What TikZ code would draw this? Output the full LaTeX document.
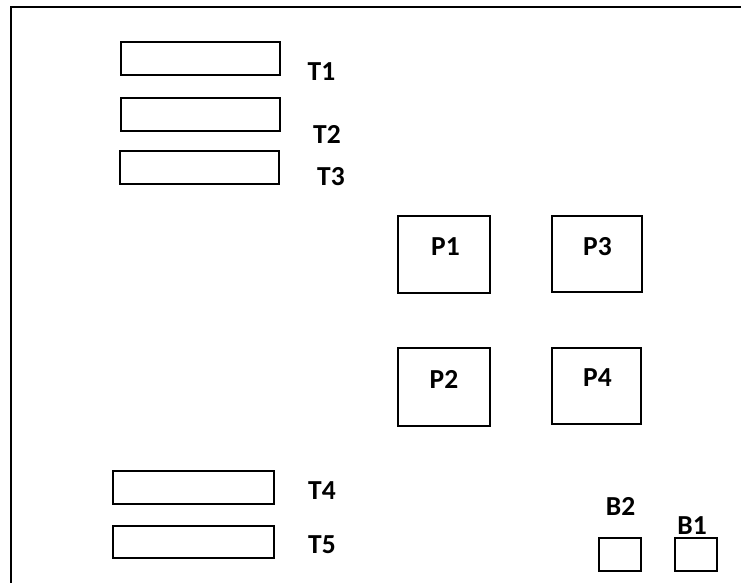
\documentclass[tikz,border=0pt]{standalone}
\usepackage{fontspec}
\setmainfont{Carlito}
\begin{document}
\begin{tikzpicture}[x=1pt,y=-1pt,
  box/.style={draw=black,line width=1.8pt,inner sep=0pt,rectangle},
  lbl/.style={inner sep=0pt,font=\fontsize{27.5}{27.5}\selectfont\bfseries}]
\useasboundingbox (0,0) rectangle (741,583);
\fill[white] (0,0) rectangle (741,583);
% frame (top and left edges)
\coordinate (fbl) at (11,583);
\coordinate (ftl) at (11,7);
\coordinate (ftr) at (741,7);
\draw[line width=1.8pt] (fbl) -- (ftl) -- (ftr);
% T boxes
\node[box,minimum width=159pt,minimum height=33pt] (t1) at (200.5,58.5) {};
\node[box,minimum width=159pt,minimum height=33pt] (t2) at (200.5,114.5) {};
\node[box,minimum width=159pt,minimum height=33pt] (t3) at (199.5,167.5) {};
\node[box,minimum width=161pt,minimum height=33pt] (t4) at (193.5,487.5) {};
\node[box,minimum width=161pt,minimum height=32pt] (t5) at (193.5,542) {};
\node[lbl] (lt1) at (321.5,72) {T1};
\node[lbl] (lt2) at (327,134) {T2};
\node[lbl] (lt3) at (331,177) {T3};
\node[lbl] (lt4) at (322,491) {T4};
\node[lbl] (lt5) at (322,545) {T5};
% P boxes
\node[box,minimum width=92pt,minimum height=77pt] (p1) at (444,254.5) {};
\node[box,minimum width=90pt,minimum height=76pt] (p3) at (597,254) {};
\node[box,minimum width=92pt,minimum height=78pt] (p2) at (444,387) {};
\node[box,minimum width=89pt,minimum height=76pt] (p4) at (596.5,386) {};
\node[lbl] (lp1) at (445.5,247) {P1};
\node[lbl] (lp3) at (597.5,247) {P3};
\node[lbl] (lp2) at (444,379) {P2};
\node[lbl] (lp4) at (597.5,377.5) {P4};
% B boxes
\node[box,minimum width=42pt,minimum height=33pt] (b2) at (620,554.5) {};
\node[box,minimum width=42pt,minimum height=33pt] (b1) at (696,554.5) {};
\node[lbl] (lb2) at (620.5,506.5) {B2};
\node[lbl] (lb1) at (692,525.5) {B1};
\end{tikzpicture}
\end{document}
